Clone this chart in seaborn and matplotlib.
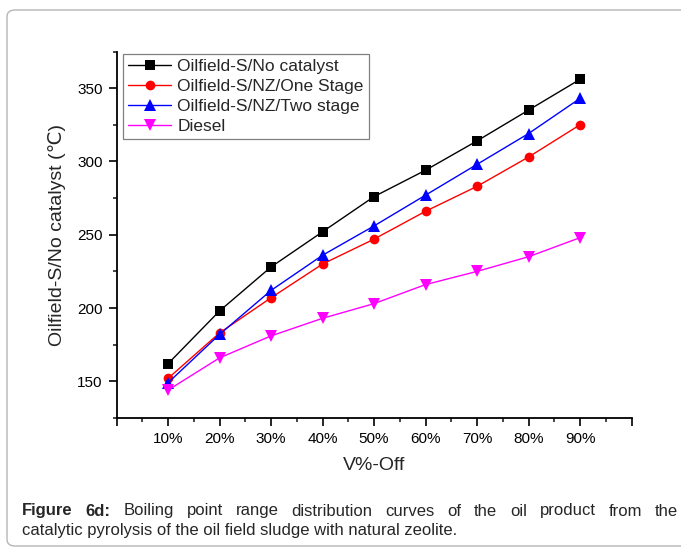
import numpy as np
import pandas as pd
import matplotlib
matplotlib.use("Agg")
import matplotlib.pyplot as plt
from matplotlib.ticker import MultipleLocator, FixedLocator, FixedFormatter
from matplotlib.patches import FancyBboxPatch
import seaborn as sns

# Distillation fraction (volume % off) and boiling temperatures (°C)
v_off = [10, 20, 30, 40, 50, 60, 70, 80, 90]
tick_labels = ["10%", "20%", "30%", "40%", "50%", "60%", "70%", "80%", "90%"]
no_catalyst = [162, 198, 228, 252, 276, 294, 314, 335, 356]
nz_one_stage = [152, 183, 207, 230, 247, 266, 283, 303, 325]
nz_two_stage = [149, 182, 212, 236, 256, 277, 298, 319, 343]
diesel = [144, 166, 181, 193, 203, 216, 225, 235, 248]

series_names = ["Oilfield-S/No catalyst", "Oilfield-S/NZ/One Stage",
                "Oilfield-S/NZ/Two stage", "Diesel"]
series_values = [no_catalyst, nz_one_stage, nz_two_stage, diesel]
colors = ["#000000", "#ff0000", "#0000ff", "#ff00ff"]
markers = ["s", "o", "^", "v"]
marker_sizes = [6.5, 7.0, 8.0, 8.0]

df = pd.DataFrame({
    "V": np.tile(v_off, len(series_names)),
    "T": np.concatenate(series_values),
    "series": np.repeat(series_names, len(v_off)),
})

sns.set_style("ticks")
plt.rcParams["font.family"] = ["Liberation Sans", "DejaVu Sans"]
cap_size = 12

W, H = 681, 548
fig = plt.figure(figsize=(W / 100, H / 100), dpi=100)
fig.patch.set_facecolor("white")

# rounded frame around the figure panel (top edge 10 px below the top)
frame = FancyBboxPatch((7 / W, 2 / H), 700 / W, 536 / H,
                       boxstyle="round,pad=0,rounding_size=0.012",
                       transform=fig.transFigure, fill=False,
                       edgecolor="#b5b5b5", linewidth=1.0, clip_on=False)
fig.patches.append(frame)

ax = fig.add_axes([116.5 / W, 1 - 418 / H, 515 / W, 366.5 / H])
sns.lineplot(data=df, x="V", y="T", hue="series", style="series",
             hue_order=series_names, style_order=series_names,
             palette=colors, markers=markers, dashes=False,
             linewidth=1.0, markersize=7, markeredgewidth=0, ax=ax)

for line, ms in zip(ax.lines[:len(series_names)], marker_sizes):
    line.set_markersize(ms)

ax.set_xlim(0, 100)
ax.set_ylim(125, 375)
ax.xaxis.set_major_locator(FixedLocator([0] + v_off + [100]))
ax.xaxis.set_major_formatter(FixedFormatter([""] + tick_labels + [""]))
ax.xaxis.set_minor_locator(MultipleLocator(5))
ax.yaxis.set_major_locator(FixedLocator([150, 200, 250, 300, 350]))
ax.yaxis.set_minor_locator(MultipleLocator(25))

for side in ["top", "right"]:
    ax.spines[side].set_visible(False)
for side in ["left", "bottom"]:
    ax.spines[side].set_linewidth(1.3)
    ax.spines[side].set_color("black")
ax.tick_params(which="major", direction="out", length=6, width=1.2,
               labelsize=11, colors="black", pad=4)
ax.tick_params(which="minor", direction="out", length=3, width=1.2)

ax.set_xlabel("V%-Off", fontsize=14, labelpad=8)
ax.set_ylabel("Oilfield-S/No catalyst (\u2103)", fontsize=14, labelpad=8)

handles, labels = ax.get_legend_handles_labels()
for h, ms in zip(handles, marker_sizes):
    h.set_markersize(ms)
leg = ax.legend(handles, labels, loc="upper left",
                bbox_to_anchor=(6.5 / 515, 1.0 - 2.5 / 366.5),
                fontsize=12.5, frameon=True, fancybox=False,
                edgecolor="#808080", framealpha=1, borderpad=0.28,
                labelspacing=0.28, handlelength=2.5, handletextpad=0.35,
                borderaxespad=0)
leg.get_frame().set_linewidth(0.9)

# caption, first line justified between the margins
fig.canvas.draw()
renderer = fig.canvas.get_renderer()
left_px, right_px = 22, 678
words = [("Figure", "bold"), ("6d:", "bold")] + [
    (w, "normal") for w in
    "Boiling point range distribution curves of the oil product from the".split()]
texts = []
total = 0.0
for w, weight in words:
    t = fig.text(0, 1 - 511 / H, w, fontsize=cap_size, fontweight=weight,
                 va="center", ha="left")
    bb = t.get_window_extent(renderer)
    texts.append((t, bb.width))
    total += bb.width
gap = (right_px - left_px - total) / (len(words) - 1)
x = left_px
for t, wpx in texts:
    t.set_x(x / W)
    x += wpx + gap
fig.text(left_px / W, 1 - 530 / H,
         "catalytic pyrolysis of the oil field sludge with natural zeolite.",
         fontsize=cap_size, va="center", ha="left")

fig.savefig("out.png", dpi=100, facecolor="white")
